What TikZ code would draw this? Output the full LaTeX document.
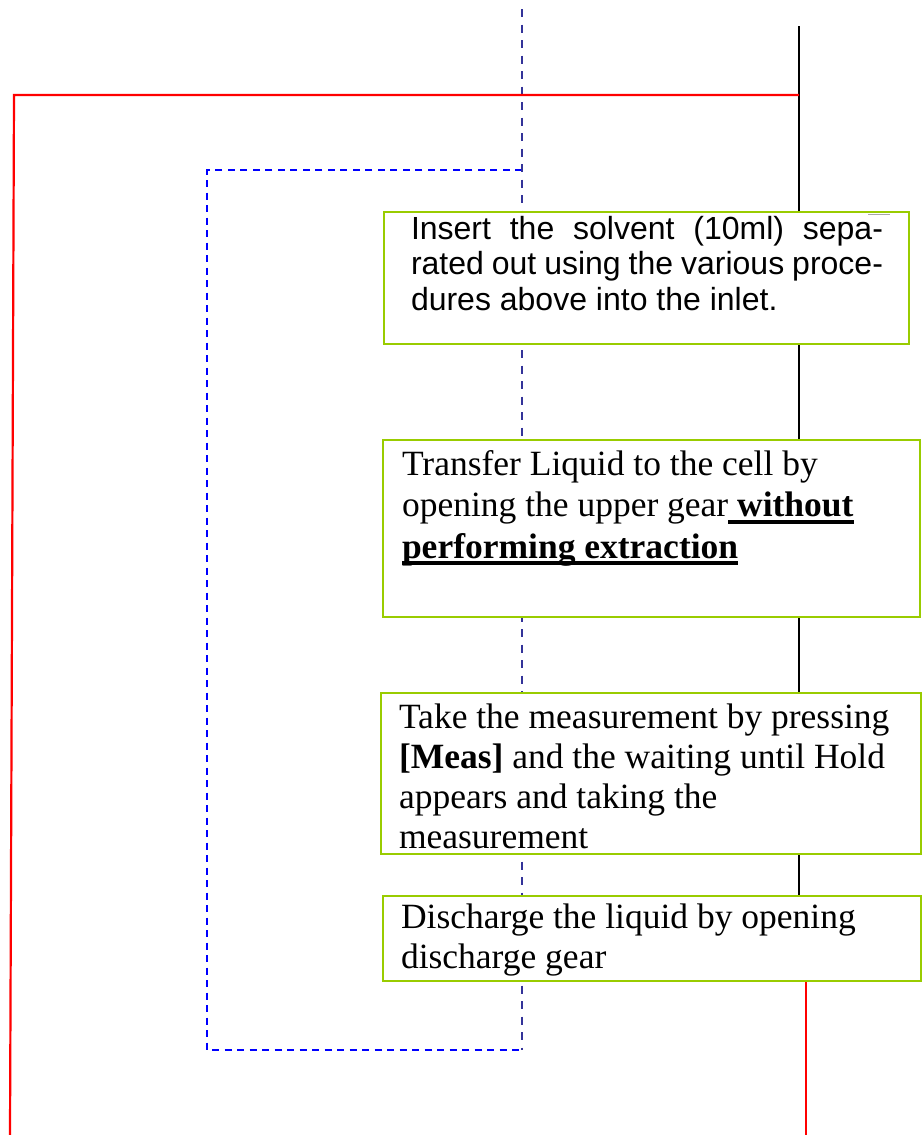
\documentclass[tikz,border=0pt]{standalone}
\usepackage{fontspec}
\setmainfont{Liberation Serif}
\newfontfamily\arialfont{Liberation Sans}
\usetikzlibrary{backgrounds}
\definecolor{boxgreen}{RGB}{153,204,0}
\definecolor{navyline}{RGB}{51,51,153}
\definecolor{blueline}{RGB}{0,0,255}
\newsavebox\myulbox
\newcommand\myul[1]{\leavevmode\sbox\myulbox{#1}\rlap{\rule[-7pt]{\wd\myulbox}{4pt}}\usebox\myulbox}
\begin{document}
\begin{tikzpicture}[x=1pt,y=-1pt,
  box/.style={draw=boxgreen, line width=2.2pt, fill=white, rectangle, anchor=north west, inner sep=0pt, outer sep=0pt},
  redline/.style={draw=red, line width=2.2pt},
  blackline/.style={draw=black, line width=1.6pt},
  navydash/.style={draw=navyline, line width=2pt, dash pattern=on 8pt off 7.5pt},
  bluedash/.style={draw=blueline, line width=2pt, dash pattern=on 7pt off 5.5pt},
  txt/.style={anchor=base west, inner sep=0pt, outer sep=0pt}]
\useasboundingbox (0,0) rectangle (922,1135);

% boxes
\node[box, minimum width=525pt, minimum height=132pt] (b1) at (384,212) {};
\node[box, minimum width=537pt, minimum height=177pt] (b2) at (383,440) {};
\node[box, minimum width=540pt, minimum height=161pt] (b3) at (381,693) {};
\node[box, minimum width=538pt, minimum height=85pt] (b4) at (383,896) {};

% texts
\node[txt] (t1) at (411,239)
  {\parbox[t]{472pt}{\arialfont\fontsize{32}{35.5}\selectfont Insert the solvent (10ml) sepa-\linebreak rated out using the various proce-\linebreak dures above into the inlet.}};
\node[txt] (t2) at (402,475)
  {\parbox[t]{515pt}{\raggedright\fontsize{35.5}{41.5}\selectfont
   Transfer Liquid to the cell by\\
   opening the upper gear\myul{\textbf{\ without}}\\
   \myul{\textbf{performing extraction}}}};
\node[txt] (t3) at (399,728)
  {\parbox[t]{520pt}{\raggedright\fontsize{35.5}{40}\selectfont Take the measurement by pressing\\
   \textbf{[Meas]} and the waiting until Hold\\
   appears and taking the\\
   measurement}};
\node[txt] (t4) at (401,928)
  {\parbox[t]{518pt}{\raggedright\fontsize{35.5}{40}\selectfont Discharge the liquid by opening\\
   discharge gear}};

% small mark in the first box
\draw[gray!70, line width=0.8pt] (868,214) -- (890,214);

% free ends of connectors
\coordinate (blacktop) at (799,26);
\coordinate (redcorner) at (14,95);
\coordinate (redbottom) at (10,1135);
\coordinate (redend) at (806,1135);
\coordinate (navytop) at (522,9);
\coordinate (navybot) at (522,1050);
\coordinate (bluetl) at (207,170);
\coordinate (bluebl) at (207,1050);

\begin{scope}[on background layer]
  \draw[bluedash] (navytop |- bluetl) -- (bluetl) -- (bluebl) -- (navybot);
  \draw[navydash] (navytop) -- (navybot);
  \draw[blackline] (blacktop) -- (blacktop |- b4.north);
  \draw[redline] (blacktop |- redcorner) -- (redcorner) -- (redbottom);
  \draw[redline] (b4.south -| redend) -- (redend);
\end{scope}
\end{tikzpicture}
\end{document}
